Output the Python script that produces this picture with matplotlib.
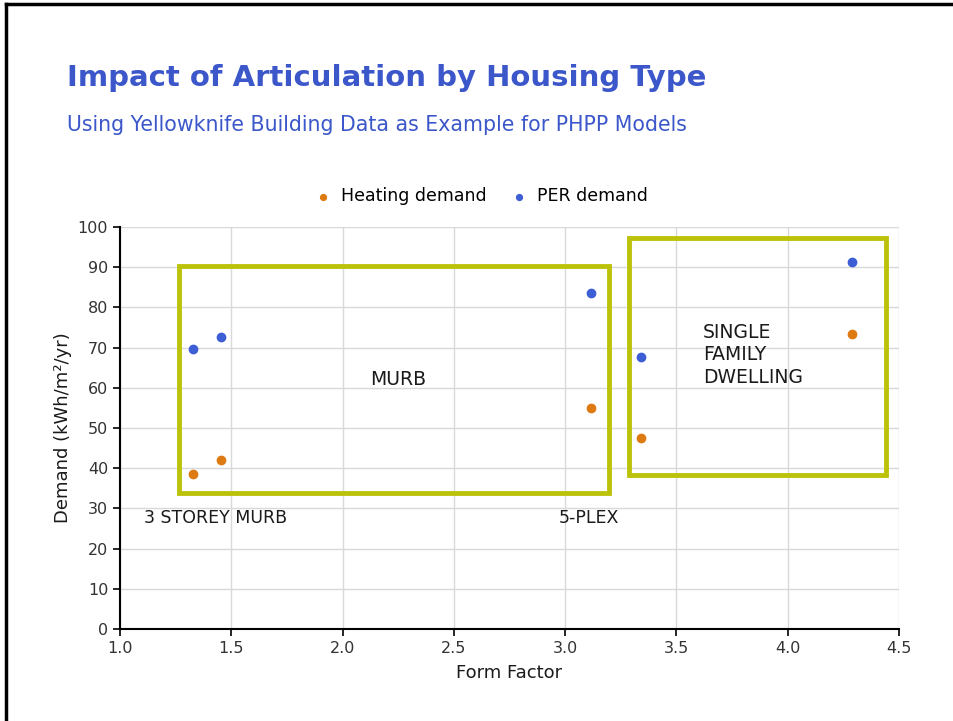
import matplotlib.pyplot as plt
from matplotlib.patches import Rectangle
from matplotlib.lines import Line2D

# form factor vs. annual demand for the five modelled buildings
form_factor = [1.33, 1.455, 3.115, 3.34, 4.29]
heating_demand = [38.5, 42.0, 55.0, 47.4, 73.4]
per_demand = [69.7, 72.7, 83.5, 67.7, 91.3]

# group outlines: (x0, x1, y0, y1)
murb_box = (1.265, 3.197, 33.8, 90.3)
sfd_box = (3.287, 4.441, 38.3, 97.3)

blue = "#3d5ed4"
orange = "#dd7a12"
lime = "#bcc20a"

fig = plt.figure(figsize=(9.54, 7.21), dpi=100)
ax = fig.add_axes([0.1258, 0.1276, 0.8166, 0.5576])

ax.scatter(form_factor, heating_demand, s=36, color=orange, zorder=3, label="Heating demand")
ax.scatter(form_factor, per_demand, s=36, color=blue, zorder=3, label="PER demand")

for x0, x1, y0, y1 in (murb_box, sfd_box):
    ax.add_patch(Rectangle((x0, y0), x1 - x0, y1 - y0, fill=False,
                           edgecolor=lime, linewidth=3.5, zorder=2))

ax.text(2.25, 62, "MURB", fontsize=13.5, ha="center", va="center", color="#1a1a1a")
ax.text(1.11, 27.5, "3 STOREY MURB", fontsize=12.5, ha="left", va="center", color="#1a1a1a")
ax.text(2.97, 27.5, "5-PLEX", fontsize=12.5, ha="left", va="center", color="#1a1a1a")
ax.text(3.62, 68.2, "SINGLE\nFAMILY\nDWELLING", fontsize=13.5, ha="left", va="center",
        linespacing=1.25, color="#1a1a1a")

ax.set_xlim(1.0, 4.5)
ax.set_ylim(0, 100)
ax.set_xticks([1.0, 1.5, 2.0, 2.5, 3.0, 3.5, 4.0, 4.5])
ax.set_yticks(range(0, 101, 10))
ax.grid(True, color="#d9d9d9", linewidth=1)
ax.set_axisbelow(True)
for side in ("top", "right"):
    ax.spines[side].set_visible(False)
for side in ("left", "bottom"):
    ax.spines[side].set_linewidth(1.5)
ax.tick_params(axis="both", labelsize=11.5, length=5, width=1.2, colors="black",
               labelcolor="#333333")
ax.set_xlabel("Form Factor", fontsize=13, labelpad=6, color="#1a1a1a")
ax.set_ylabel("Demand (kWh/m\u00b2/yr)", fontsize=13, labelpad=4, color="#1a1a1a")

ax.legend(loc="lower center", bbox_to_anchor=(0.458, 1.015), ncol=2, frameon=False,
          fontsize=12.5, handletextpad=0.0, columnspacing=0.9, markerscale=0.7)

fig.text(0.070, 0.892, "Impact of Articulation by Housing Type", fontsize=21,
         fontweight="bold", color="#3b57c9", ha="left", va="center")
fig.text(0.070, 0.826, "Using Yellowknife Building Data as Example for PHPP Models",
         fontsize=14.8, color="#3b57c9", ha="left", va="center")

# slide frame along the top and left edges
fig.add_artist(Line2D([0.006, 0.006], [0, 0.994], transform=fig.transFigure,
                      color="black", linewidth=2.5))
fig.add_artist(Line2D([0.006, 1.0], [0.994, 0.994], transform=fig.transFigure,
                      color="black", linewidth=2.5))

fig.savefig("out.png", dpi=100)
